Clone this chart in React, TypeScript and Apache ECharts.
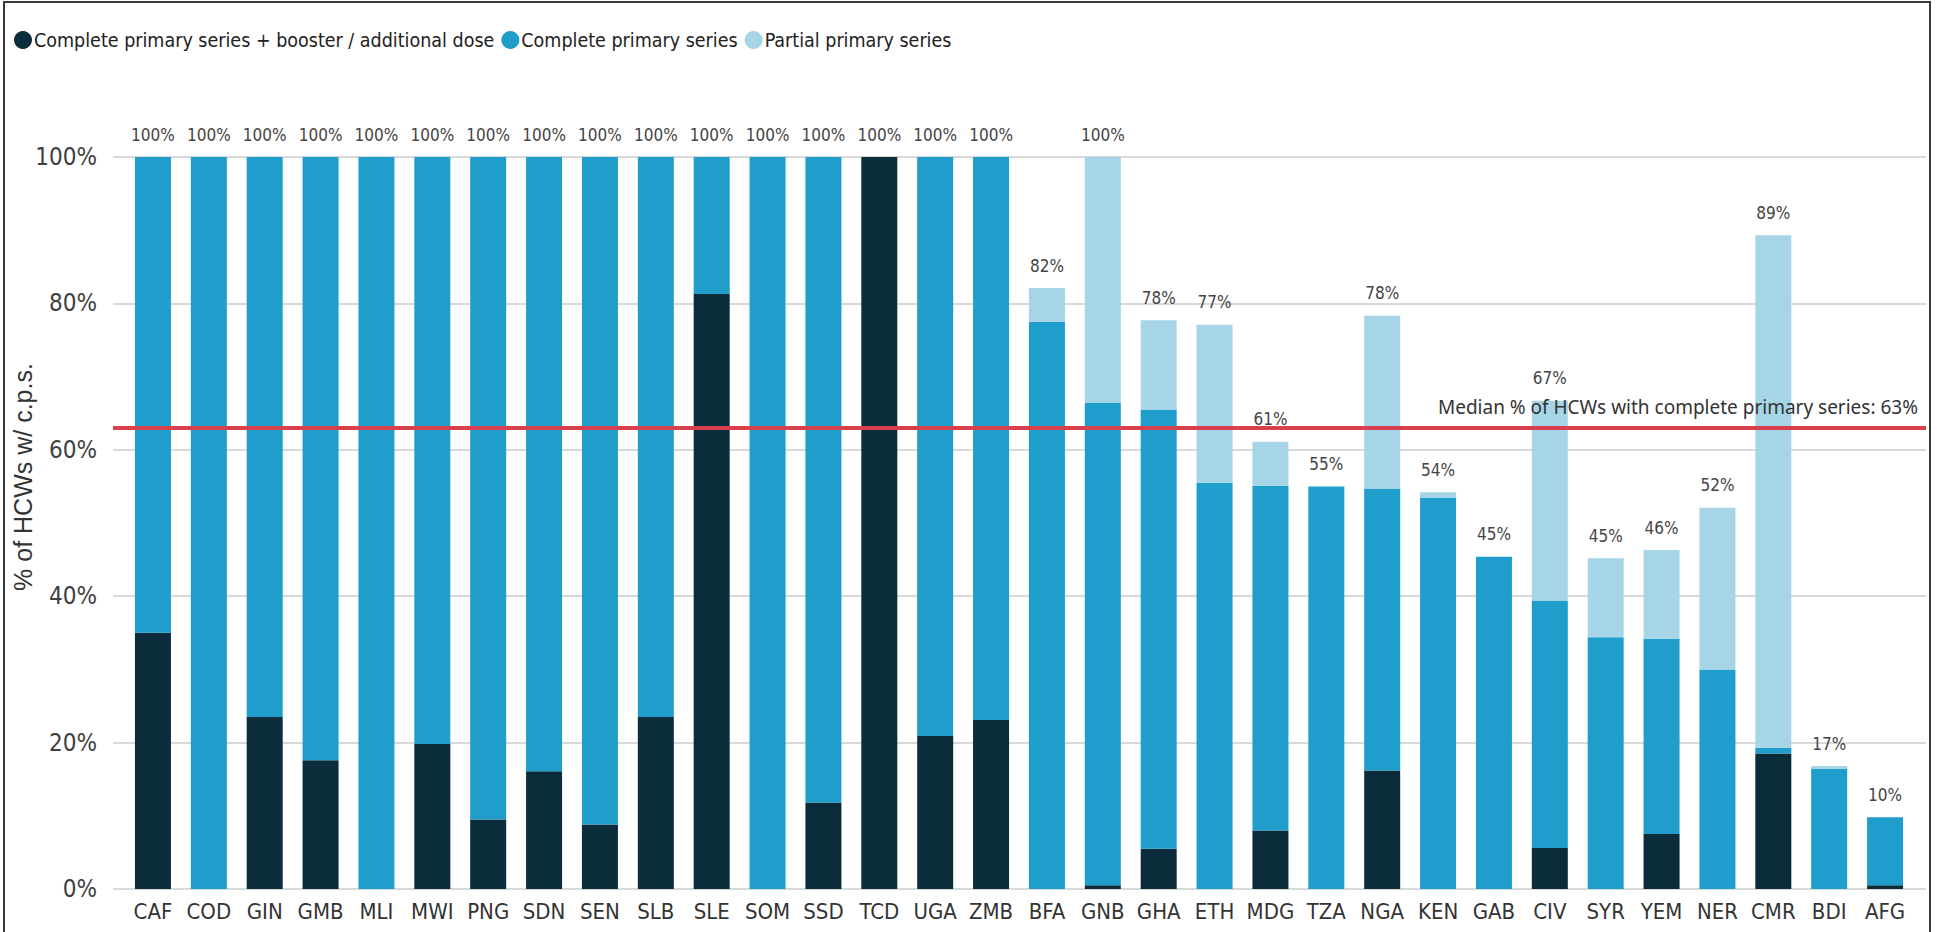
import React, { useEffect, useRef } from "react";
import * as echarts from "echarts";

const categories = ["CAF","COD","GIN","GMB","MLI","MWI","PNG","SDN","SEN","SLB","SLE","SOM","SSD","TCD","UGA","ZMB","BFA","GNB","GHA","ETH","MDG","TZA","NGA","KEN","GAB","CIV","SYR","YEM","NER","CMR","BDI","AFG"];
const booster = [35, 0, 23.5, 17.6, 0, 19.8, 9.5, 16.1, 8.8, 23.5, 81.3, 0, 11.8, 100, 20.9, 23.1, 0, 0.5, 5.5, 0, 8, 0, 16.2, 0, 0, 5.6, 0, 7.5, 0, 18.5, 0, 0.5];
const completePrimary = [65, 100, 76.5, 82.4, 100, 80.2, 90.5, 83.9, 91.2, 76.5, 18.7, 100, 88.2, 0, 79.1, 76.9, 77.5, 65.9, 60, 55.5, 47.1, 55, 38.5, 53.4, 45.4, 33.8, 34.4, 26.7, 30, 0.8, 16.4, 9.3];
const partial = [0, 0, 0, 0, 0, 0, 0, 0, 0, 0, 0, 0, 0, 0, 0, 0, 4.6, 33.6, 12.2, 21.6, 6, 0, 23.6, 0.8, 0, 27.3, 10.8, 12.1, 22.1, 70, 0.4, 0];
const MEDIAN = 63;
const yTicks = [0, 20, 40, 60, 80, 100];

const seriesNames = [
  "Complete primary series + booster / additional dose",
  "Complete primary series",
  "Partial primary series",
];
const colors = ["#0b2c3b", "#1f9ecb", "#a5d5e7"];

const NARROW = "'Liberation Sans Narrow', 'Arial Narrow', 'DejaVu Sans Condensed', sans-serif";

export default function App() {
  const ref = useRef<HTMLDivElement>(null);
  useEffect(() => {
    if (!ref.current) return;
    const chart = echarts.init(ref.current, null, { renderer: "svg" });
    const totals = categories.map((_, i) => booster[i] + completePrimary[i] + partial[i]);
    const gridTop = 157;
    const gridBottom = 932 - 889;
    chart.setOption({
      animation: false,
      backgroundColor: "#ffffff",
      legend: {
        left: 9,
        top: 25,
        icon: "circle",
        itemWidth: 18,
        itemHeight: 18,
        itemGap: 7,
        textStyle: { fontSize: 19.5, color: "#222", fontFamily: NARROW, padding: [0, 0, 0, -3] },
        data: seriesNames,
      },
      grid: [
        { left: 113, right: 11, top: gridTop, bottom: gridBottom },
        { left: 125, right: 24, top: gridTop, bottom: gridBottom },
      ],
      xAxis: [
        { type: "value", gridIndex: 0, min: 0, max: 1, show: false },
        {
          type: "category",
          gridIndex: 1,
          data: categories,
          axisLine: { show: false },
          axisTick: { show: false },
          axisLabel: { fontSize: 22, color: "#333", fontFamily: NARROW, margin: 11, interval: 0 },
        },
      ],
      yAxis: [
        {
          type: "value",
          gridIndex: 0,
          min: yTicks[0],
          max: yTicks[yTicks.length - 1],
          interval: 20,
          axisLine: { show: false },
          axisTick: { show: false },
          axisLabel: { formatter: "{value}%", fontSize: 24, color: "#404040", fontFamily: NARROW, margin: 16 },
          splitLine: { lineStyle: { color: "#d9d9d9", width: 2 } },
        },
        { type: "value", gridIndex: 1, min: 0, max: 100, show: false },
      ],
      graphic: [
        {
          type: "rect",
          shape: { x: 4, y: 2, width: 1926, height: 940 },
          style: { fill: "none", stroke: "#3a3a3a", lineWidth: 2 },
          silent: true,
        },
        {
          type: "text",
          x: 23,
          y: 477,
          rotation: Math.PI / 2,
          style: {
            text: "% of HCWs w/ c.p.s.",
            fontSize: 25,
            fontFamily: "'Liberation Sans', Arial, sans-serif",
            fill: "#333",
            align: "center",
            verticalAlign: "middle",
          },
        },
      ],
      series: [
        {
          name: seriesNames[0],
          type: "bar",
          stack: "total",
          xAxisIndex: 1,
          yAxisIndex: 1,
          barWidth: 36,
          itemStyle: { color: colors[0] },
          data: booster,
        },
        {
          name: seriesNames[1],
          type: "bar",
          stack: "total",
          xAxisIndex: 1,
          yAxisIndex: 1,
          barWidth: 36,
          itemStyle: { color: colors[1] },
          data: completePrimary,
        },
        {
          name: seriesNames[2],
          type: "bar",
          stack: "total",
          xAxisIndex: 1,
          yAxisIndex: 1,
          barWidth: 36,
          itemStyle: { color: colors[2] },
          data: partial,
          label: {
            show: true,
            position: "top",
            distance: 14,
            fontSize: 17,
            color: "#444",
            fontFamily: NARROW,
            formatter: (p: any) => Math.round(totals[p.dataIndex]) + "%",
          },
        },
        {
          name: "median",
          type: "line",
          xAxisIndex: 0,
          yAxisIndex: 0,
          data: [],
          z: 5,
          markLine: {
            silent: true,
            symbol: ["none", "none"],
            lineStyle: { color: "#d9404e", width: 4, type: "solid" },
            label: {
              show: true,
              position: "insideEndTop",
              distance: [8, 11],
              formatter: "Median % of HCWs with complete primary series: " + MEDIAN + "%",
              fontSize: 19,
              color: "#333",
              fontFamily: "'Noto Sans', 'Open Sans', sans-serif",
            },
            data: [{ yAxis: MEDIAN }],
          },
        },
      ],
    });
    return () => chart.dispose();
  }, []);
  return (
    <div
      ref={ref}
      style={{ position: "fixed", left: 0, top: 0, width: 1937, height: 932 }}
    />
  );
}
